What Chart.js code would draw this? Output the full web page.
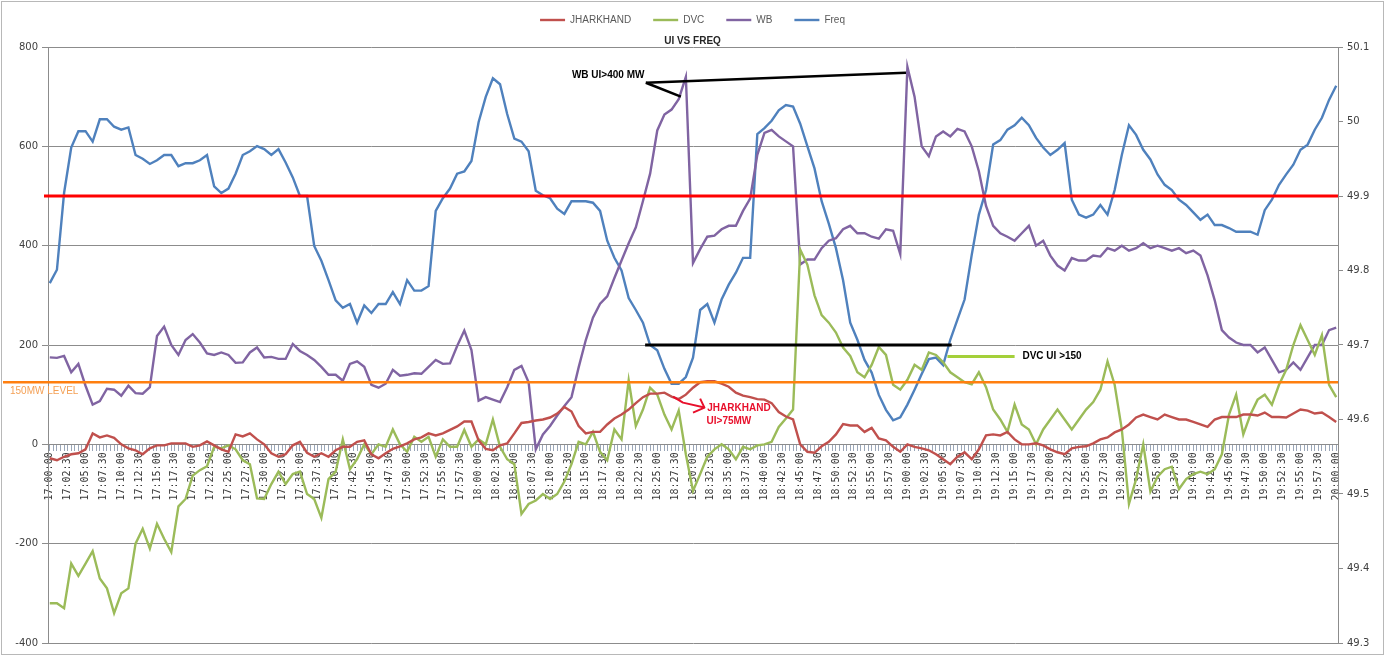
<!DOCTYPE html>
<html>
<head>
<meta charset="utf-8">
<title>UI VS FREQ</title>
<script src="https://cdn.jsdelivr.net/npm/chart.js@4.4.1/dist/chart.umd.min.js"></script>
<style>
    html, body { margin: 0; padding: 0; background: #fff; }
    canvas { display: block; }
</style>
</head>
<body>
<canvas id="uiFreqChart" width="1385" height="656"></canvas>
<script>
// One reading per minute, 17:00 -> 20:00 (181 points)
const jharkhand = [
    -28, -32, -25, -20, -18, -10, 22, 14, 18, 13,
    0, -8, -12, -20, -8, -2, -2, 2, 2, 2,
    -5, -2, 6, -2, -10, -15, 20, 16, 22, 10,
    0, -18, -25, -20, -2, 5, -17, -25, -18, -25,
    -12, -5, -5, 5, 8, -20, -28, -18, -9, -4,
    2, 10, 14, 22, 18, 22, 29, 36, 46, 46,
    8, -9, -12, -2, 2, 22, 43, 45, 48, 50,
    54, 62, 75, 66, 37, 22, 25, 25, 40, 52,
    60, 70, 83, 95, 102, 102, 104, 96, 91, 100,
    114, 125, 127, 127, 122, 116, 104, 98, 95, 91,
    90, 83, 65, 56, 50, 0, -15, -17, -4, 5,
    20, 41, 38, 38, 25, 33, 12, 8, -5, -15,
    0, -5, -8, -12, -20, -30, -40, -25, -16, -30,
    -10, 18, 20, 18, 25, 10, 0, 0, 2, -2,
    -10, -16, -20, -8, -5, -4, 2, 10, 14, 24,
    30, 40, 54, 60, 55, 50, 60, 55, 50, 50,
    45, 40, 35, 50, 55, 55, 55, 60, 60, 58,
    64, 55, 55, 54, 62, 70, 68, 62, 64, 55, 45
];

const dvc = [
    -320, -320, -330, -240, -265, -240, -215, -270, -290, -340,
    -300, -290, -200, -170, -210, -160, -190, -217, -125, -110,
    -63, -52, -44, -5, -8, -2, -10, -32, -40, -109,
    -110, -80, -55, -80, -60, -55, -100, -110, -148, -70,
    -55, 10, -50, -30, 0, -20, 0, -5, 30, 0,
    -15, 15, 5, 15, -25, 10, -5, -5, 29, -5,
    10, 0, 50, -5, -30, -40, -140, -120, -113, -100,
    -110, -100, -75, -40, 5, 0, 25, -15, -32, 30,
    10, 129, 37, 70, 114, 100, 60, 30, 68, -20,
    -94, -60, -25, -10, 0, -10, -30, -5, -10, -2,
    0, 5, 35, 52, 70, 392, 362, 300, 260, 245,
    225, 195, 178, 145, 135, 160, 196, 180, 120, 110,
    130, 160, 150, 185, 180, 165, 145, 135, 125, 121,
    145, 115, 70, 50, 25, 80, 40, 30, 0, 30,
    50, 70, 50, 30, 50, 70, 85, 110, 167, 120,
    30, -120, -70, 0, -95, -65, -50, -45, -90, -70,
    -60, -55, -60, -50, -20, 60, 100, 20, 60, 90,
    100, 80, 120, 150, 200, 240, 210, 180, 220, 120, 95
];

const wb = [
    175, 174, 178, 145, 162, 118, 80, 87, 112, 110,
    98, 118, 103, 102, 115, 218, 237, 200, 180, 210,
    222, 205, 183, 180, 185, 180, 164, 165, 185, 195,
    175, 176, 172, 172, 202, 188, 180, 170, 156, 140,
    140, 128, 162, 167, 156, 120, 114, 122, 150, 138,
    140, 143, 142, 156, 170, 162, 163, 198, 229, 190,
    88, 95, 90, 85, 115, 150, 158, 125, -10, 20,
    37, 58, 77, 95, 155, 210, 255, 283, 298, 335,
    370, 405, 437, 490, 545, 632, 664, 674, 695, 740,
    365, 393, 418, 420, 433, 440, 440, 470, 495, 583,
    627, 633, 620, 610, 600, 362, 372, 372, 395, 410,
    415, 433, 440, 425, 425, 418, 414, 433, 430, 383,
    760, 700, 600, 580, 620, 630, 620, 635, 630, 600,
    550, 480, 440, 425, 418, 410, 425, 440, 400, 410,
    380, 360, 350, 375, 370, 370, 380, 378, 395, 390,
    400, 390, 395, 405, 395, 400, 395, 390, 395, 385,
    390, 380, 340, 290, 230, 215, 205, 200, 200, 185,
    195, 170, 145, 150, 165, 150, 175, 200, 200, 230, 235
];

const freq = [
    49.783, 49.801, 49.904, 49.965, 49.987, 49.987, 49.973, 50.003, 50.003, 49.993,
    49.989, 49.992, 49.955, 49.950, 49.943, 49.948, 49.955, 49.955, 49.940, 49.944,
    49.944, 49.948, 49.955, 49.913, 49.904, 49.910, 49.930, 49.955, 49.960, 49.967,
    49.963, 49.955, 49.963, 49.945, 49.925, 49.900, 49.900, 49.833, 49.813, 49.787,
    49.760, 49.750, 49.755, 49.730, 49.753, 49.743, 49.755, 49.755, 49.771, 49.755,
    49.787, 49.773, 49.773, 49.779, 49.880, 49.897, 49.910, 49.930, 49.933, 49.947,
    49.999, 50.033, 50.058, 50.050, 50.010, 49.977, 49.973, 49.960, 49.907, 49.901,
    49.897, 49.883, 49.876, 49.893, 49.893, 49.893, 49.891, 49.880, 49.840, 49.817,
    49.800, 49.763, 49.747, 49.730, 49.700, 49.693, 49.668, 49.648, 49.648, 49.657,
    49.683, 49.747, 49.755, 49.730, 49.761, 49.781, 49.797, 49.817, 49.817, 49.983,
    49.991, 50.001, 50.015, 50.022, 50.020, 49.997, 49.967, 49.937, 49.893, 49.863,
    49.830, 49.787, 49.730, 49.707, 49.680, 49.663, 49.633, 49.613, 49.599, 49.603,
    49.620, 49.640, 49.661, 49.681, 49.683, 49.673, 49.707, 49.734, 49.761, 49.821,
    49.875, 49.908, 49.969, 49.975, 49.989, 49.995, 50.005, 49.995, 49.978, 49.965,
    49.955, 49.962, 49.971, 49.895, 49.875, 49.871, 49.875, 49.888, 49.875, 49.908,
    49.955, 49.995, 49.982, 49.962, 49.949, 49.929, 49.915, 49.908, 49.895, 49.888,
    49.878, 49.868, 49.875, 49.861, 49.861, 49.857, 49.852, 49.852, 49.852, 49.848,
    49.881, 49.895, 49.915, 49.929, 49.942, 49.962, 49.969, 49.989, 50.005, 50.029, 50.048
];

// Axis ranges / tick steps
const uiTicks = { min: -400, max: 800, step: 200 };
const freqTicks = { min: 49.3, max: 50.1, step: 0.1 };

// Category axis: one slot every 30 s, a label every 2.5 min
const SLOT_SECONDS = 30;
const LABEL_EVERY = 5;
const timeSlots = [];
for (let s = 0; s <= 3 * 3600; s += SLOT_SECONDS) {
    timeSlots.push(clock(s));
}

function clock(sec) {
    const h = 17 + Math.floor(sec / 3600);
    const m = Math.floor((sec % 3600) / 60);
    const s = sec % 60;
    return [h, m, s].map(n => String(n).padStart(2, '0')).join(':');
}

// minute readings -> points on the 30 s category axis
function perMinute(values) {
    return values.map((v, i) => ({ x: timeSlots[i * 2], y: v }));
}

// Reference lines, callouts and frame
const chartDecor = {
    id: 'chartDecor',
    beforeDraw(chart) {
        const { ctx, width, height } = chart;
        ctx.save();
        ctx.fillStyle = '#ffffff';
        ctx.fillRect(0, 0, width, height);
        ctx.strokeStyle = '#b8b8b8';
        ctx.lineWidth = 1;
        ctx.strokeRect(1.5, 1.5, width - 3, height - 3);
        ctx.restore();
    },
    afterDatasetsDraw(chart) {
        const { ctx, chartArea, scales } = chart;
        const px = minute => scales.x.getPixelForValue(minute * 2);
        const py = mw => scales.y.getPixelForValue(mw);

        const path = (pts, color, width) => {
            ctx.save();
            ctx.strokeStyle = color;
            ctx.lineWidth = width;
            ctx.lineJoin = 'round';
            ctx.beginPath();
            pts.forEach(([x, y], i) => (i ? ctx.lineTo(x, y) : ctx.moveTo(x, y)));
            ctx.stroke();
            ctx.restore();
        };
        const label = (text, x, y, color, font, align = 'left') => {
            ctx.save();
            ctx.fillStyle = color;
            ctx.font = font;
            ctx.textAlign = align;
            ctx.textBaseline = 'middle';
            ctx.fillText(text, x, y);
            ctx.restore();
        };
        const bold = 'bold 10px "Liberation Sans", Arial, sans-serif';

        // 49.9 Hz (= 500 on the UI scale) and the 150 MW level
        path([[chartArea.left - 4, py(500)], [chartArea.right, py(500)]], '#ff0000', 3);
        path([[3, py(125)], [chartArea.right, py(125)]], '#ff7f0f', 2.5);
        label('150MW LEVEL', 10, py(125) + 9, '#f4a055', '10px "Liberation Sans", Arial, sans-serif');

        // low frequency spell
        path([[px(83.3), py(200)], [px(126.2), py(200)]], '#000000', 3);

        // WB callout
        label('WB UI>400 MW', px(83.2), py(744), '#000000', bold, 'right');
        path([[px(83.4), py(728)], [px(119.8), py(748)]], '#000000', 2.5);
        path([[px(83.4), py(728)], [px(88.3), py(700)]], '#000000', 2.5);

        // DVC callout
        path([[px(125.6), py(177)], [px(135.0), py(177)]], '#a4d03a', 3);
        label('DVC UI >150', px(136.1), py(177), '#000000', bold);

        // JHARKHAND callout
        path([[px(87.2), py(96)], [px(88.6), py(84)], [px(91.6), py(74)]], '#e8102c', 2);
        path([[px(91.0), py(92)], [px(91.6), py(74)], [px(90.0), py(64)]], '#e8102c', 2);
        label('JHARKHAND', px(92.0), py(72), '#e8102c', bold);
        label('UI>75MW', px(91.9), py(46), '#e8102c', bold);
    }
};

const lineStyle = { borderWidth: 2.4, pointRadius: 0, tension: 0, fill: false };

new Chart(document.getElementById('uiFreqChart').getContext('2d'), {
    type: 'line',
    data: {
        labels: timeSlots,
        datasets: [
            { label: 'JHARKHAND', data: perMinute(jharkhand), borderColor: '#c0504d', backgroundColor: '#c0504d', yAxisID: 'y', ...lineStyle },
            { label: 'DVC', data: perMinute(dvc), borderColor: '#9bbb59', backgroundColor: '#9bbb59', yAxisID: 'y', ...lineStyle },
            { label: 'WB', data: perMinute(wb), borderColor: '#8064a2', backgroundColor: '#8064a2', yAxisID: 'y', ...lineStyle },
            { label: 'Freq', data: perMinute(freq), borderColor: '#4f81bd', backgroundColor: '#4f81bd', yAxisID: 'y1', ...lineStyle }
        ]
    },
    options: {
        responsive: false,
        animation: false,
        events: [],
        layout: { padding: { top: -7, right: 0, bottom: 13, left: 0 } },
        plugins: {
            legend: {
                position: 'top',
                labels: {
                    usePointStyle: true,
                    pointStyle: 'line',
                    pointStyleWidth: 25,
                    padding: 22,
                    color: '#595959',
                    font: { size: 10, family: '"Liberation Sans", Arial, sans-serif' }
                }
            },
            title: {
                display: true,
                text: 'UI VS FREQ',
                weight: 500,
                color: '#262626',
                padding: { top: 0, bottom: 0 },
                font: { size: 10, weight: 'bold', family: '"Liberation Sans", Arial, sans-serif' }
            },
            tooltip: { enabled: false }
        },
        scales: {
            x: {
                type: 'category',
                position: { y: 0 },
                offset: true,
                grid: { drawOnChartArea: false, drawTicks: true, tickLength: 6, color: '#9aa6b8' },
                border: { display: true, color: '#8c8c8c' },
                ticks: {
                    autoSkip: false,
                    minRotation: 90,
                    maxRotation: 90,
                    padding: 2,
                    color: '#3a3a3a',
                    font: { size: 10, family: '"DejaVu Sans Mono", monospace' },
                    callback: (value, index) => (index % LABEL_EVERY === 0 ? timeSlots[value] : '')
                }
            },
            y: {
                position: 'left',
                min: uiTicks.min,
                max: uiTicks.max,
                afterFit: scale => { scale.width = 48; },
                grid: { color: '#8c8c8c', tickLength: 6 },
                border: { display: true, color: '#8c8c8c' },
                ticks: {
                    stepSize: uiTicks.step,
                    padding: 4,
                    color: '#404040',
                    font: { size: 10, family: '"DejaVu Sans", sans-serif' }
                }
            },
            y1: {
                position: 'right',
                min: freqTicks.min,
                max: freqTicks.max,
                afterFit: scale => { scale.width = 47; },
                grid: { drawOnChartArea: false, color: '#8c8c8c', tickLength: 5 },
                border: { display: true, color: '#8c8c8c' },
                ticks: {
                    stepSize: freqTicks.step,
                    padding: 4,
                    color: '#404040',
                    font: { size: 10, family: '"DejaVu Sans", sans-serif' },
                    callback: value => String(+value.toFixed(1))
                }
            }
        }
    },
    plugins: [chartDecor]
});
</script>
</body>
</html>
